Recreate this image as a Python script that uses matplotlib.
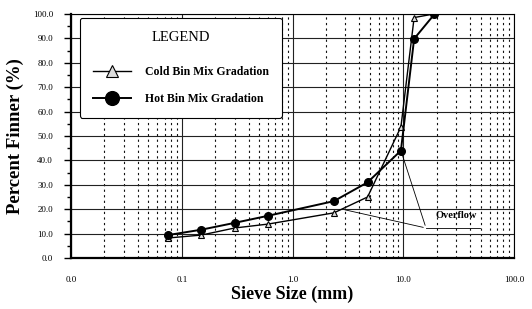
import matplotlib
matplotlib.use('Agg')
import matplotlib.pyplot as plt
import numpy as np
from matplotlib.ticker import FixedLocator, FuncFormatter, MultipleLocator

plt.rcParams['font.family'] = ['Liberation Serif', 'DejaVu Serif']

sieve = [0.075, 0.15, 0.3, 0.6, 2.36, 4.75, 9.5, 12.5, 19.0]
cold = [8.2, 9.4, 12.3, 13.9, 18.5, 25.0, 53.7, 98.5, 100.0]
hot = [9.4, 11.6, 14.4, 17.3, 23.3, 31.0, 44.0, 89.8, 99.8]

fig = plt.figure(figsize=(5.32, 3.09), dpi=100)
ax = fig.add_axes([0.1335, 0.165, 0.833, 0.79])

ax.set_xscale('log')
ax.set_xlim(0.01, 100)
ax.set_ylim(0, 100)

# grid
ax.xaxis.set_major_locator(FixedLocator([0.01, 0.1, 1, 10, 100]))
ax.xaxis.set_major_formatter(FuncFormatter(lambda v, p: '%.1f' % v))
minors = [m * d for d in [0.01, 0.1, 1, 10] for m in range(2, 10)]
ax.xaxis.set_minor_locator(FixedLocator(minors))
ax.yaxis.set_major_locator(MultipleLocator(10))
ax.yaxis.set_major_formatter(FuncFormatter(lambda v, p: '%.1f' % v))
ax.yaxis.set_minor_locator(MultipleLocator(5))
ax.grid(True, which='major', color='#222222', lw=0.8)
ax.grid(True, which='minor', axis='x', color='#111111', lw=0.8, ls=(0, (2, 3)))

ax.tick_params(axis='x', which='both', length=0, pad=13, labelsize=6.5)
ax.tick_params(axis='y', which='major', length=5, width=1, pad=8, labelsize=6.5)
ax.tick_params(axis='y', which='minor', length=3, width=1)
for s in ax.spines.values():
    s.set_linewidth(0.8)
ax.spines['left'].set_linewidth(1.6)
ax.spines['bottom'].set_linewidth(1.6)

ax.plot(sieve, cold, '-^', color='black', lw=1.0, ms=4.5, mfc='#dddddd', mec='black',
        mew=0.8, label='Cold Bin Mix Gradation', zorder=3)
ax.plot(sieve, hot, '-o', color='black', lw=1.4, ms=5.5, mfc='black',
        label='Hot Bin Mix Gradation', zorder=3)

# overflow note
ax.annotate('', xy=(9.5, 44), xytext=(16.0, 12.3),
            arrowprops=dict(arrowstyle='-', color='black', lw=0.6))
ax.annotate('', xy=(2.8, 20.0), xytext=(16.0, 12.3),
            arrowprops=dict(arrowstyle='-', color='black', lw=0.6))
ax.plot([16.0, 49], [12.3, 12.3], color='black', lw=0.6)
ax.text(19.5, 17.3, 'Overflow', fontsize=7.5, fontweight='bold', va='center')

leg = ax.legend(loc='upper left', bbox_to_anchor=(0.02, 0.984), borderaxespad=0,
                title='LEGEND', fontsize=8.5, title_fontsize=10.5, fancybox=True,
                framealpha=1, edgecolor='black', borderpad=1.1, labelspacing=1.25,
                handlelength=3.2, handletextpad=1.2, markerscale=1.8)
leg.get_frame().set_linewidth(0.8)
for t in leg.get_texts():
    t.set_fontweight('bold')
leg._legend_box.sep = 16

ax.set_xlabel('Sieve Size (mm)', fontsize=13, fontweight='bold', labelpad=1)
ax.set_ylabel('Percent Finner (%)', fontsize=13.5, fontweight='bold', labelpad=6)

fig.savefig('out.png', dpi=100)
